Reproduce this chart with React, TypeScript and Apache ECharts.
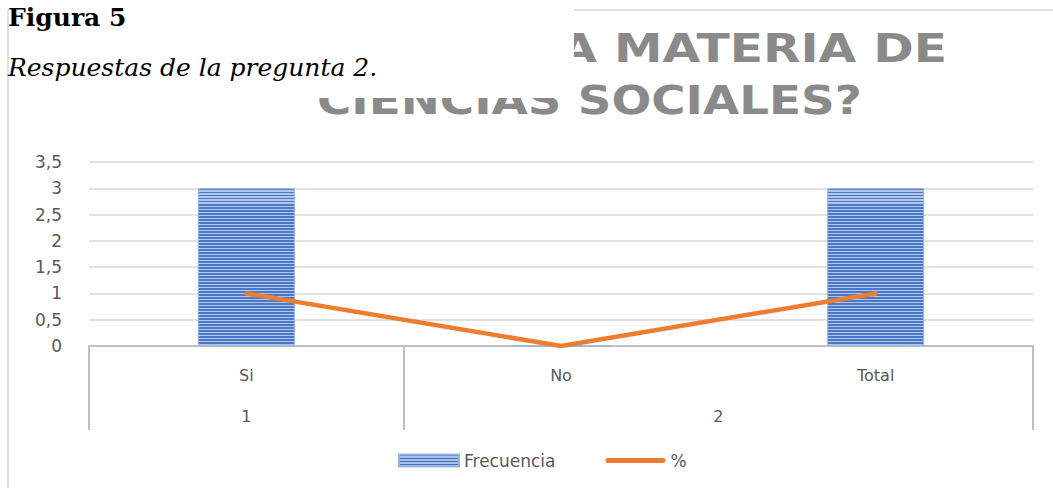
import React, { useEffect, useRef } from "react";
import * as echarts from "echarts";

// ---- data ----
const categories = ["Si", "No", "Total"];
const groupLabels = ["1", "2"];
const groupSpans = [1, 2];
const frecuencia = [3, 0, 3];
const porcentaje = [1, 0, 1];
const yMin = 0;
const yMax = 3.5;
const yInterval = 0.5;
const seriesNames = ["Frecuencia", "%"];
const titleLine1 = "A MATERIA DE";
const titleLine2 = "CIENCIAS SOCIALES?";
const figureLabel = "Figura 5";
const figureCaption = "Respuestas de la pregunta 2.";

function stripes(n: number, dark: string, light: string) {
  const stops: { offset: number; color: string }[] = [];
  for (let i = 0; i < n; i++) {
    const a = i / n;
    const m = (i + 0.55) / n;
    const b = (i + 1) / n;
    stops.push({ offset: a, color: dark });
    stops.push({ offset: m, color: dark });
    stops.push({ offset: m, color: light });
    stops.push({ offset: b, color: light });
  }
  return new echarts.graphic.LinearGradient(0, 0, 0, 1, stops);
}

export default function App() {
  const ref = useRef<HTMLDivElement>(null);
  useEffect(() => {
    if (!ref.current) return;
    const chart = echarts.init(ref.current, undefined, { renderer: "svg" });

    const bounds: number[] = [0];
    groupSpans.forEach((s) => bounds.push(bounds[bounds.length - 1] + s));
    const centers = groupSpans.map((s, i) => bounds[i] + s / 2);

    const labelColor = "#595959";
    const font = "DejaVu Sans";

    chart.setOption({
      animation: false,
      backgroundColor: "#ffffff",
      grid: {
        left: 89,
        right: 20,
        top: 162,
        bottom: 142,
        containLabel: false,
        outerBoundsMode: "none",
      },
      legend: {
        left: 393,
        top: 447,
        itemWidth: 60,
        itemHeight: 12,
        itemGap: 50,
        symbolKeepAspect: true,
        textStyle: { fontSize: 17, color: labelColor, fontFamily: font },
        data: [
          {
            name: seriesNames[0],
            icon: "rect",
            itemStyle: { color: stripes(4, "#4472c4", "#a9bfe6") },
          },
          {
            name: seriesNames[1],
            icon: "path://M2.5,0 H57.5 A2.5,2.5 0 0 1 57.5,5 H2.5 A2.5,2.5 0 0 1 2.5,0 Z",
            itemStyle: { color: "#ed7d31" },
          },
        ],
      },
      xAxis: [
        {
          type: "category",
          data: categories,
          boundaryGap: true,
          axisLine: { show: true, lineStyle: { color: "#bfbfbf", width: 2 } },
          axisTick: { show: false },
          axisLabel: { margin: 21, fontSize: 16, color: labelColor, fontFamily: font },
          splitLine: { show: false },
        },
        {
          type: "value",
          min: 0,
          max: bounds[bounds.length - 1],
          position: "bottom",
          axisLine: { show: false },
          splitLine: { show: false },
          axisTick: {
            show: true,
            customValues: bounds,
            length: 84,
            lineStyle: { color: "#bfbfbf", width: 2 },
          },
          axisLabel: {
            customValues: centers,
            margin: 62,
            fontSize: 16,
            color: labelColor,
            fontFamily: font,
            formatter: (v: number) => {
              const idx = centers.findIndex((c) => Math.abs(c - v) < 1e-6);
              return idx >= 0 ? groupLabels[idx] : "";
            },
          },
        },
      ],
      yAxis: {
        type: "value",
        min: yMin,
        max: yMax,
        interval: yInterval,
        axisLine: { show: false },
        axisTick: { show: false },
        axisLabel: {
          margin: 27,
          fontSize: 17,
          color: labelColor,
          fontFamily: font,
          formatter: (v: number) => String(v).replace(".", ","),
        },
        splitLine: { lineStyle: { color: "#d9d9d9", width: 1.5 } },
      },
      series: [
        {
          name: seriesNames[0],
          type: "bar",
          data: frecuencia,
          barWidth: 97,
          itemStyle: {
            color: stripes(52, "#4a78c8", "#b3c6e9"),
            borderColor: "#9ab3e0",
            borderWidth: 1,
          },
        },
        {
          name: seriesNames[1],
          type: "line",
          data: porcentaje,
          symbol: "none",
          itemStyle: { color: "#ed7d31" },
          lineStyle: { color: "#ed7d31", width: 4.5, cap: "round" },
          z: 5,
        },
      ],
      graphic: [
        {
          type: "rect",
          z: 0,
          shape: { x: 8, y: 10, width: 1200, height: 700 },
          style: { fill: "none", stroke: "#d9d9d9", lineWidth: 1.5 },
          silent: true,
        },
        {
          type: "text",
          z: 1,
          x: 947,
          y: 48,
          scaleX: 1.25,
          style: {
            text: titleLine1,
            font: `bold 39px "${font}"`,
            fill: "#8a8a8a",
            align: "right",
            verticalAlign: "middle",
          },
        },
        {
          type: "text",
          z: 1,
          x: 317,
          y: 100,
          scaleX: 1.2,
          style: {
            text: titleLine2,
            font: `bold 39px "${font}"`,
            fill: "#8a8a8a",
            align: "left",
            verticalAlign: "middle",
          },
        },
        {
          type: "rect",
          z: 10,
          shape: { x: 9, y: 0, width: 565, height: 98 },
          style: { fill: "#ffffff" },
          silent: true,
        },
        {
          type: "text",
          z: 11,
          x: 8,
          y: 17,
          style: {
            text: figureLabel,
            font: 'bold 25px "DejaVu Serif"',
            fill: "#000000",
            align: "left",
            verticalAlign: "middle",
          },
        },
        {
          type: "text",
          z: 11,
          x: 8,
          y: 67,
          style: {
            text: figureCaption,
            font: 'italic 25px "DejaVu Serif"',
            fill: "#000000",
            align: "left",
            verticalAlign: "middle",
          },
        },
      ],
    });
    return () => chart.dispose();
  }, []);
  return (
    <div
      ref={ref}
      style={{ position: "absolute", left: 0, top: 0, width: 1053, height: 488 }}
    />
  );
}
